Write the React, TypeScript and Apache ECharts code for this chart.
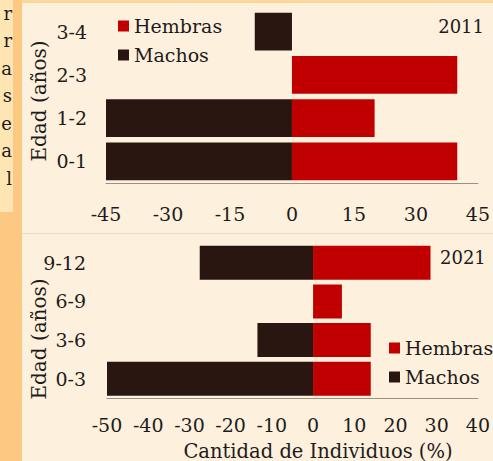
import React, { useEffect, useRef } from "react";
import * as echarts from "echarts";

const ageGroups2011 = ["0-1", "1-2", "2-3", "3-4"];
const hembras2011 = [40, 20, 40, 0];
const machos2011 = [-45, -45, 0, -9];

const ageGroups2021 = ["0-3", "3-6", "6-9", "9-12"];
const hembras2021 = [14, 14, 7, 28.5];
const machos2021 = [-50, -13.5, 0, -27.5];

const sideLetters = ["r", "r", "a", "s", "e", "a", "l"];

const RED = "#c00000";
const DARK = "#2a1610";
const TXT = "#1f1b1c";
const FONT = "'DejaVu Serif', 'Liberation Serif', serif";

export default function App() {
  const ref = useRef<HTMLDivElement>(null);
  useEffect(() => {
    document.body.style.margin = "0";
    const chart = echarts.init(ref.current!, null, { renderer: "svg" });
    const axisLabel = { color: TXT, fontFamily: FONT, fontSize: 19 };
    const legendText = { fontFamily: FONT, fontSize: 19, color: TXT, lineHeight: 20 };
    const option: any = {
      animation: false,
      backgroundColor: "#fdf0dc",
      textStyle: { fontFamily: FONT, color: TXT },
      legend: [
        {
          orient: "vertical",
          left: 118,
          top: 16,
          padding: 0,
          itemWidth: 11,
          itemHeight: 11,
          itemGap: 9,
          icon: "rect",
          data: ["Hembras", "Machos"],
          textStyle: legendText,
        },
        {
          orient: "vertical",
          left: 389,
          top: 338,
          padding: 0,
          itemWidth: 11,
          itemHeight: 11,
          itemGap: 9,
          icon: "rect",
          data: ["Hembras", "Machos"],
          textStyle: legendText,
        },
      ],
      grid: [
        { left: 106, width: 374, top: 10, height: 173 },
        { left: 107, width: 374, top: 243.5, height: 154.5 },
      ],
      xAxis: [
        {
          gridIndex: 0,
          type: "value",
          min: -45,
          max: 45,
          interval: 15,
          axisLine: { show: true, lineStyle: { color: "#9b9088", width: 1 } },
          axisTick: { show: false },
          splitLine: { show: false },
          axisLabel: { ...axisLabel, margin: 21 },
        },
        {
          gridIndex: 1,
          type: "value",
          min: -50,
          max: 40,
          interval: 10,
          axisLine: { show: true, lineStyle: { color: "#9b9088", width: 1 } },
          axisTick: { show: false },
          splitLine: { show: false },
          axisLabel: { ...axisLabel, margin: 17 },
        },
      ],
      yAxis: [
        {
          gridIndex: 0,
          type: "category",
          data: ageGroups2011,
          axisLine: { show: false },
          axisTick: { show: false },
          axisLabel: { ...axisLabel, margin: 19 },
        },
        {
          gridIndex: 1,
          type: "category",
          data: ageGroups2021,
          axisLine: { show: false },
          axisTick: { show: false },
          axisLabel: { ...axisLabel, margin: 21 },
        },
      ],
      series: [
        {
          name: "Hembras",
          type: "bar",
          xAxisIndex: 0,
          yAxisIndex: 0,
          data: hembras2011,
          itemStyle: { color: RED },
          barGap: "-100%",
          barCategoryGap: "13%",
        },
        {
          name: "Machos",
          type: "bar",
          xAxisIndex: 0,
          yAxisIndex: 0,
          data: machos2011,
          itemStyle: { color: DARK },
          barGap: "-100%",
          barCategoryGap: "13%",
        },
        {
          name: "Hembras",
          type: "bar",
          xAxisIndex: 1,
          yAxisIndex: 1,
          data: hembras2021,
          itemStyle: { color: RED },
          barGap: "-100%",
          barCategoryGap: "12%",
        },
        {
          name: "Machos",
          type: "bar",
          xAxisIndex: 1,
          yAxisIndex: 1,
          data: machos2021,
          itemStyle: { color: DARK },
          barGap: "-100%",
          barCategoryGap: "12%",
        },
      ],
      graphic: [
        { type: "rect", z: -100, shape: { x: 0, y: 0, width: 493, height: 461 }, style: { fill: "#fdf0dc" } },
        { type: "rect", z: -99, shape: { x: 0, y: 0, width: 493, height: 3 }, style: { fill: "#fbd79a" } },
        { type: "rect", z: -99, shape: { x: 0, y: 0, width: 22, height: 461 }, style: { fill: "#fcc983" } },
        { type: "rect", z: -98, shape: { x: 0, y: 0, width: 13, height: 212 }, style: { fill: "#fde6b3" } },
        { type: "line", z: -97, shape: { x1: 22, y1: 233.5, x2: 493, y2: 233.5 }, style: { stroke: "#e9dac4", lineWidth: 1 } },
        ...sideLetters.map((ch, i) => ({
          type: "text",
          z: -90,
          x: 12,
          y: 13 + i * 27.5,
          style: {
            text: ch,
            fontFamily: FONT,
            fontSize: 18,
            fill: TXT,
            align: "right",
            verticalAlign: "middle",
          },
        })),
        {
          type: "text",
          x: 39,
          y: 101,
          rotation: Math.PI / 2,
          style: {
            text: "Edad (años)",
            fontFamily: FONT,
            fontSize: 20,
            fill: TXT,
            align: "center",
            verticalAlign: "middle",
          },
        },
        {
          type: "text",
          x: 39,
          y: 339,
          rotation: Math.PI / 2,
          style: {
            text: "Edad (años)",
            fontFamily: FONT,
            fontSize: 20,
            fill: TXT,
            align: "center",
            verticalAlign: "middle",
          },
        },
        {
          type: "text",
          x: 484,
          y: 26,
          style: {
            text: "2011",
            fontFamily: FONT,
            fontSize: 18,
            fill: TXT,
            align: "right",
            verticalAlign: "middle",
          },
        },
        {
          type: "text",
          x: 440,
          y: 257,
          style: {
            text: "2021",
            fontFamily: FONT,
            fontSize: 18,
            fill: TXT,
            align: "left",
            verticalAlign: "middle",
          },
        },
        {
          type: "text",
          x: 318,
          y: 451,
          style: {
            text: "Cantidad de Individuos (%)",
            fontFamily: FONT,
            fontSize: 19.5,
            fill: TXT,
            align: "center",
            verticalAlign: "middle",
          },
        },
      ],
    };
    chart.setOption(option);
    return () => chart.dispose();
  }, []);
  return (
    <div
      ref={ref}
      style={{ position: "fixed", left: 0, top: 0, width: 493, height: 461 }}
    />
  );
}
